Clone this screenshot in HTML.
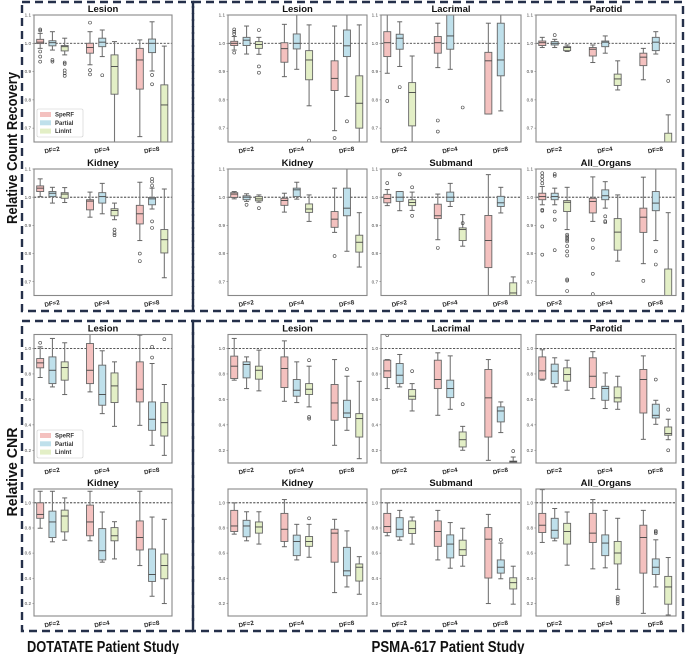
<!DOCTYPE html>
<html><head><meta charset="utf-8">
<style>
html,body{margin:0;padding:0;background:#fff;}
svg{display:block;font-family:"Liberation Sans",sans-serif;}
</style></head>
<body>
<svg id="fig" width="685" height="654" viewBox="0 0 685 654" xmlns="http://www.w3.org/2000/svg">
  <rect x="22" y="2" width="171" height="309" fill="none" stroke="#25304a" stroke-width="2.4" stroke-dasharray="8,5"/>
  <rect x="193" y="2" width="490" height="309" fill="none" stroke="#25304a" stroke-width="2.4" stroke-dasharray="8,5"/>
  <rect x="22" y="321" width="171" height="310" fill="none" stroke="#25304a" stroke-width="2.4" stroke-dasharray="8,5"/>
  <rect x="193" y="321" width="490" height="310" fill="none" stroke="#25304a" stroke-width="2.4" stroke-dasharray="8,5"/>
  <text transform="translate(17,148) rotate(-90)" text-anchor="middle" font-weight="bold" font-size="14.5" fill="#111" textLength="152" lengthAdjust="spacingAndGlyphs">Relative Count Recovery</text>
  <text transform="translate(17,472) rotate(-90)" text-anchor="middle" font-weight="bold" font-size="14.5" fill="#111" textLength="89" lengthAdjust="spacingAndGlyphs">Relative CNR</text>
  <text x="103" y="652" text-anchor="middle" font-weight="bold" font-size="15.5" fill="#111" textLength="152" lengthAdjust="spacingAndGlyphs">DOTATATE Patient Study</text>
  <text x="448" y="652" text-anchor="middle" font-weight="bold" font-size="15.5" fill="#111" textLength="153" lengthAdjust="spacingAndGlyphs">PSMA-617 Patient Study</text>
  <g id="panels"></g>
</svg>
<script>
const categories = ['DF=2','DF=4','DF=8'];
const methods = ['SpeRF','Partial','LinInt'];
const crrTicks = [0.7,0.8,0.9,1.0,1.1];
const cnrTicks = [0.2,0.4,0.6,0.8,1.0];
// each box: [low whisker, q1, median, q3, high whisker, outliers]
const crrLesionDota = [
 [0.982,0.999,1.004,1.014,1.035,[1.049,1.045,0.971,0.953,0.935]],
 [0.976,0.991,1.002,1.009,1.041,[0.941,0.935]],
 [0.959,0.973,0.988,0.992,1.018,[0.932,0.927,0.904,0.894,0.885]],
 [0.924,0.965,0.985,1.0,1.041,[1.073,0.905,0.89]],
 [0.953,0.988,1.004,1.018,1.047,[0.887]],
 [0.6,0.82,0.918,0.959,1.006,[]],
 [0.67,0.838,0.941,0.982,1.012,[]],
 [0.902,0.967,1.0,1.015,1.076,[0.888,0.855]],
 [0.55,0.6,0.782,0.853,0.99,[]]];
const crrKidneyDota = [
 [1.002,1.02,1.032,1.04,1.065,[]],
 [0.979,1.002,1.014,1.02,1.035,[]],
 [0.981,0.996,1.011,1.016,1.034,[]],
 [0.929,0.955,0.986,0.991,1.018,[]],
 [0.941,0.979,1.002,1.016,1.049,[]],
 [0.92,0.934,0.953,0.959,0.979,[0.885,0.873,0.865]],
 [0.846,0.905,0.941,0.971,1.053,[0.8,0.773]],
 [0.958,0.973,0.994,0.999,1.032,[1.065,1.055,1.041,0.914,0.891]],
 [0.714,0.802,0.849,0.885,1.029,[]]];
const crrLesionPsma = [
 [0.976,0.992,1.0,1.007,1.024,[1.049,1.041,1.033,0.967]],
 [0.962,0.992,1.011,1.021,1.061,[]],
 [0.961,0.982,0.996,1.006,1.021,[1.047,0.918,0.896]],
 [0.882,0.933,0.981,1.002,1.067,[]],
 [0.908,0.98,1.0,1.033,1.12,[]],
 [0.779,0.871,0.941,0.974,1.065,[0.656]],
 [0.691,0.833,0.876,0.938,1.061,[0.665]],
 [0.812,0.953,0.991,1.047,1.12,[0.724]],
 [0.6,0.7,0.788,0.885,1.065,[]]];
const crrLacrimal = [
 [0.894,0.953,1.002,1.041,1.1,[0.796]],
 [0.918,0.979,1.018,1.032,1.076,[0.845]],
 [0.6,0.708,0.826,0.861,0.955,[]],
 [0.914,0.965,1.002,1.024,1.071,[0.727,0.688]],
 [0.908,0.979,1.026,1.1,1.12,[]],
 [0.45,0.5,0.55,0.6,0.64,[0.773]],
 [0.75,0.75,0.938,0.968,1.071,[]],
 [0.761,0.885,0.941,1.071,1.1,[]],
 [0.5,0.55,0.58,0.62,0.64,[]]];
const crrParotid = [
 [0.985,0.992,1.002,1.008,1.021,[]],
 [0.985,0.994,1.0,1.006,1.014,[1.029]],
 [0.971,0.974,0.985,0.988,0.994,[]],
 [0.932,0.955,0.979,0.985,0.994,[]],
 [0.965,0.988,1.004,1.008,1.026,[]],
 [0.835,0.851,0.874,0.891,0.938,[]],
 [0.871,0.921,0.951,0.965,0.982,[]],
 [0.962,0.974,1.004,1.021,1.041,[]],
 [0.6,0.62,0.64,0.682,0.747,[0.867]]];
const crrKidneyPsma = [
 [0.994,0.999,1.011,1.016,1.02,[]],
 [0.985,0.991,1.0,1.005,1.012,[0.973]],
 [0.982,0.987,0.994,1.002,1.008,[0.961]],
 [0.947,0.971,0.988,0.996,1.014,[]],
 [0.993,1.002,1.026,1.032,1.053,[]],
 [0.914,0.946,0.958,0.976,1.008,[]],
 [0.875,0.893,0.922,0.949,1.032,[0.791]],
 [0.808,0.934,0.961,1.032,1.12,[]],
 [0.752,0.805,0.84,0.865,0.945,[]]];
const crrSubmand = [
 [0.97,0.98,0.995,1.01,1.027,[1.05]],
 [0.952,0.985,1.0,1.02,1.02,[1.081]],
 [0.953,0.97,0.981,0.991,1.018,[1.035,0.934]],
 [0.849,0.924,0.934,0.975,1.011,[0.82]],
 [0.967,0.985,1.0,1.018,1.049,[]],
 [0.826,0.846,0.885,0.891,0.938,[0.908]],
 [0.6,0.75,0.846,0.935,1.08,[]],
 [0.944,0.967,0.98,1.003,1.035,[]],
 [0.6,0.62,0.66,0.696,0.717,[]]];
const crrAllOrgans = [
 [0.973,0.991,1.002,1.014,1.038,[1.085,1.073,1.061,1.049,0.955,0.952,0.896,0.796]],
 [0.973,0.991,1.002,1.014,1.032,[1.082,1.076,0.949,0.92,0.812]],
 [0.885,0.949,0.982,0.988,1.035,[0.867,0.861,0.855,0.849,0.843,0.826,0.808,0.793,0.708,0.704,0.667]],
 [0.914,0.944,0.985,0.996,1.072,[0.849,0.82,0.728,0.656]],
 [0.961,0.991,1.005,1.026,1.055,[0.932,0.915,0.911]],
 [0.773,0.812,0.876,0.924,1.008,[]],
 [0.764,0.875,0.929,0.961,1.071,[0.703]],
 [0.846,0.952,0.979,1.02,1.1,[0.808,0.761]],
 [0.55,0.6,0.62,0.745,0.945,[]]];
const cnrLesionDota = [
 [0.772,0.848,0.887,0.921,1.013,[1.045]],
 [0.698,0.724,0.829,0.934,1.079,[]],
 [0.638,0.751,0.85,0.895,1.045,[]],
 [0.659,0.724,0.829,1.039,1.11,[]],
 [0.488,0.554,0.638,0.869,0.982,[]],
 [0.388,0.575,0.706,0.808,0.895,[]],
 [0.396,0.58,0.68,0.895,1.105,[]],
 [0.239,0.357,0.444,0.58,0.882,[1.013,0.929]],
 [0.16,0.312,0.417,0.575,0.717,[1.073]]];
const cnrKidneyDota = [
 [0.798,0.877,0.908,1.0,1.092,[]],
 [0.69,0.724,0.848,0.934,1.092,[]],
 [0.703,0.769,0.895,0.942,1.039,[]],
 [0.698,0.738,0.848,0.982,1.092,[]],
 [0.528,0.546,0.619,0.795,0.927,[]],
 [0.554,0.698,0.738,0.803,0.85,[]],
 [0.501,0.625,0.724,0.856,1.092,[]],
 [0.257,0.375,0.43,0.633,0.887,[]],
 [0.199,0.396,0.501,0.593,0.869,[]]];
const cnrLesionPsma = [
 [0.751,0.764,0.861,0.94,1.079,[]],
 [0.685,0.769,0.874,0.895,0.934,[]],
 [0.667,0.759,0.829,0.861,0.987,[]],
 [0.585,0.693,0.843,0.934,1.06,[]],
 [0.575,0.625,0.672,0.756,0.895,[]],
 [0.541,0.638,0.68,0.724,0.861,[0.908,0.462,0.449]],
 [0.239,0.436,0.572,0.717,0.913,[]],
 [0.357,0.457,0.493,0.593,0.782,[0.837]],
 [0.134,0.304,0.449,0.488,0.742,[]]];
const cnrLacrimal = [
 [0.685,0.772,0.824,0.908,0.913,[1.105]],
 [0.698,0.724,0.79,0.882,0.953,[]],
 [0.509,0.601,0.625,0.677,0.724,[0.822]],
 [0.475,0.685,0.756,0.908,0.966,[]],
 [0.522,0.614,0.685,0.751,0.942,[]],
 [0.2,0.226,0.283,0.344,0.388,[0.562]],
 [0.121,0.304,0.612,0.835,0.913,[]],
 [0.339,0.423,0.509,0.541,0.58,[]],
 [0.1,0.105,0.11,0.115,0.147,[0.194]]];
const cnrParotid = [
 [0.751,0.759,0.824,0.934,0.99,[]],
 [0.698,0.724,0.822,0.877,0.927,[]],
 [0.672,0.743,0.795,0.848,0.908,[]],
 [0.606,0.693,0.782,0.927,0.975,[]],
 [0.528,0.593,0.685,0.703,0.808,[]],
 [0.522,0.58,0.612,0.698,0.782,[]],
 [0.286,0.493,0.756,0.835,0.942,[]],
 [0.404,0.454,0.475,0.562,0.593,[0.756]],
 [0.283,0.318,0.331,0.383,0.444,[0.52,0.2]]];
const cnrKidneyPsma = [
 [0.751,0.772,0.816,0.94,1.0,[]],
 [0.698,0.73,0.816,0.861,0.929,[]],
 [0.672,0.759,0.808,0.848,0.929,[]],
 [0.651,0.693,0.79,0.916,1.026,[]],
 [0.546,0.58,0.693,0.743,0.829,[]],
 [0.567,0.654,0.693,0.732,0.829,[0.877]],
 [0.286,0.528,0.759,0.79,0.869,[]],
 [0.331,0.42,0.459,0.646,0.777,[]],
 [0.273,0.378,0.488,0.514,0.572,[]]];
const cnrSubmand = [
 [0.738,0.764,0.811,0.916,1.0,[]],
 [0.703,0.73,0.79,0.882,0.94,[]],
 [0.672,0.756,0.795,0.856,0.887,[]],
 [0.546,0.654,0.772,0.856,0.94,[]],
 [0.48,0.562,0.672,0.745,0.843,[]],
 [0.496,0.582,0.627,0.703,0.798,[]],
 [0.199,0.402,0.711,0.803,0.908,[]],
 [0.396,0.441,0.488,0.546,0.68,[0.706]],
 [0.194,0.315,0.365,0.404,0.496,[]]];
const cnrAllOrgans = [
 [0.685,0.764,0.822,0.916,1.105,[]],
 [0.698,0.719,0.782,0.877,0.955,[]],
 [0.504,0.672,0.772,0.837,0.927,[]],
 [0.475,0.685,0.759,0.916,1.026,[]],
 [0.483,0.58,0.68,0.745,0.94,[]],
 [0.312,0.514,0.601,0.693,0.877,[0.252,0.234,0.218,0.2]],
 [0.121,0.441,0.724,0.822,0.94,[]],
 [0.331,0.43,0.488,0.554,0.706,[0.777,0.759,0.77]],
 [0.108,0.194,0.331,0.415,0.565,[]]];

const fills = ['#f4c1bf','#bfe0eb','#e3efc6'];
const NS = 'http://www.w3.org/2000/svg';
const root = document.getElementById('panels');
function mk(tag, attrs, parent){
  const e = document.createElementNS(NS, tag);
  for (const k in attrs) e.setAttribute(k, attrs[k]);
  (parent||root).appendChild(e);
  return e;
}
const colX = {L:34, R1:228, R2:381, R3:536};
const colW = {L:138, R1:139, R2:140, R3:140};
const rows = [
 {y0:15, y1:142, lo:0.651, hi:1.1, ticks:crrTicks},
 {y0:169, y1:295.5, lo:0.651, hi:1.1, ticks:crrTicks},
 {y0:334.5, y1:463, lo:0.1, hi:1.11, ticks:cnrTicks},
 {y0:489, y1:616, lo:0.1, hi:1.11, ticks:cnrTicks}];
const panels = [
 {id:'crr-lesion-dotatate', title:'Lesion', col:'L', row:0, data:crrLesionDota, legend:true},
 {id:'crr-kidney-dotatate', title:'Kidney', col:'L', row:1, data:crrKidneyDota},
 {id:'crr-lesion-psma', title:'Lesion', col:'R1', row:0, data:crrLesionPsma},
 {id:'crr-lacrimal', title:'Lacrimal', col:'R2', row:0, data:crrLacrimal},
 {id:'crr-parotid', title:'Parotid', col:'R3', row:0, data:crrParotid},
 {id:'crr-kidney-psma', title:'Kidney', col:'R1', row:1, data:crrKidneyPsma},
 {id:'crr-submand', title:'Submand', col:'R2', row:1, data:crrSubmand},
 {id:'crr-all-organs', title:'All_Organs', col:'R3', row:1, data:crrAllOrgans},
 {id:'cnr-lesion-dotatate', title:'Lesion', col:'L', row:2, data:cnrLesionDota, legend:true},
 {id:'cnr-kidney-dotatate', title:'Kidney', col:'L', row:3, data:cnrKidneyDota},
 {id:'cnr-lesion-psma', title:'Lesion', col:'R1', row:2, data:cnrLesionPsma},
 {id:'cnr-lacrimal', title:'Lacrimal', col:'R2', row:2, data:cnrLacrimal},
 {id:'cnr-parotid', title:'Parotid', col:'R3', row:2, data:cnrParotid},
 {id:'cnr-kidney-psma', title:'Kidney', col:'R1', row:3, data:cnrKidneyPsma},
 {id:'cnr-submand', title:'Submand', col:'R2', row:3, data:cnrSubmand},
 {id:'cnr-all-organs', title:'All_Organs', col:'R3', row:3, data:cnrAllOrgans}];

panels.forEach((p, pi) => {
  const r = rows[p.row];
  const x0 = colX[p.col], w = colW[p.col];
  const y0 = r.y0, y1 = r.y1;
  const ys = v => y1 - (v - r.lo) / (r.hi - r.lo) * (y1 - y0);
  const xs = u => x0 + (u + 0.37) / 2.77 * w;
  const g = mk('g', {});
  
  
  const cp = mk('clipPath', {id:'cp' + pi}, g);
  mk('rect', {x:x0, y:y0, width:w, height:y1 - y0}, cp);
  const t = mk('text', {x:x0 + w / 2, y:y0 - 3, 'text-anchor':'middle', 'font-weight':'bold', 'font-size':'9.5', fill:'#111'}, g);
  t.textContent = p.title;
  
  
  r.ticks.forEach(tv => {
    const tl = mk('text', {x:x0 - 3, y:ys(tv) + 1.6, 'text-anchor':'end', 'font-size':'4.6', fill:'#444'}, g);
    tl.textContent = tv.toFixed(1);
    
    
    mk('line', {x1:x0 - 1.5, x2:x0, y1:ys(tv), y2:ys(tv), stroke:'#666', 'stroke-width':0.6}, g);
  });
  const ref = mk('line', {x1:x0, x2:x0 + w, y1:ys(1.0), y2:ys(1.0), stroke:'#222', 'stroke-width':0.8, 'stroke-dasharray':'2.2,1.4'}, g);
  
  
  const mg = mk('g', {'clip-path':'url(#cp' + pi + ')'}, g);
  p.data.forEach((b, bi) => {
    const gi = Math.floor(bi / 3), mi = bi % 3;
    const cx = xs(gi + (mi - 1) * 0.246);
    const bw = 7;
    const bx = mk('g', {}, mg);
    
    
    mk('line', {x1:cx, x2:cx, y1:ys(b[4]), y2:ys(b[3]), stroke:'#777', 'stroke-width':1.1}, bx);
    mk('line', {x1:cx, x2:cx, y1:ys(b[1]), y2:ys(b[0]), stroke:'#777', 'stroke-width':1.1}, bx);
    mk('line', {x1:cx - 2.5, x2:cx + 2.5, y1:ys(b[4]), y2:ys(b[4]), stroke:'#666', 'stroke-width':1}, bx);
    mk('line', {x1:cx - 2.5, x2:cx + 2.5, y1:ys(b[0]), y2:ys(b[0]), stroke:'#666', 'stroke-width':1}, bx);
    mk('rect', {x:cx - bw / 2, y:ys(b[3]), width:bw, height:Math.max(0.5, ys(b[1]) - ys(b[3])), fill:fills[mi], stroke:'#666', 'stroke-width':0.9}, bx);
    mk('line', {x1:cx - bw / 2, x2:cx + bw / 2, y1:ys(b[2]), y2:ys(b[2]), stroke:'#444', 'stroke-width':0.9}, bx);
    b[5].forEach(o => {
      const c = mk('circle', {cx:cx, cy:ys(o), r:1.5, fill:'none', stroke:'#444', 'stroke-width':0.6}, bx);
      
      
    });
  });
  const fr = mk('rect', {x:x0, y:y0, width:w, height:y1 - y0, fill:'none', stroke:'#888', 'stroke-width':1.1}, g);
  
  
  categories.forEach((c, ci) => {
    const cx = xs(ci);
    const xl = mk('text', {x:0, y:0, 'text-anchor':'middle', 'font-weight':'bold', 'font-size':'6.2', fill:'#222', transform:'translate(' + cx + ',' + (y1 + 10) + ') rotate(-10)'}, g);
    xl.textContent = c;
    
    
  });
  if (p.legend) {
    const lx = x0 + 3, ly = y1 - 33;
    const lg = mk('g', {}, g);
    
    
    mk('rect', {x:lx, y:ly, width:46, height:28, fill:'#fff', stroke:'#ccc', 'stroke-width':0.6, rx:1.5}, lg);
    methods.forEach((m, mi) => {
      const e = mk('g', {}, lg);
      
      
      mk('rect', {x:lx + 3, y:ly + 3 + mi * 8.3, width:11, height:5, fill:fills[mi]}, e);
      const tx = mk('text', {x:lx + 18, y:ly + 7.6 + mi * 8.3, 'font-size':'6', 'font-weight':'bold', fill:'#333'}, e);
      tx.textContent = m;
    });
  }
});
</script>
</body></html>
